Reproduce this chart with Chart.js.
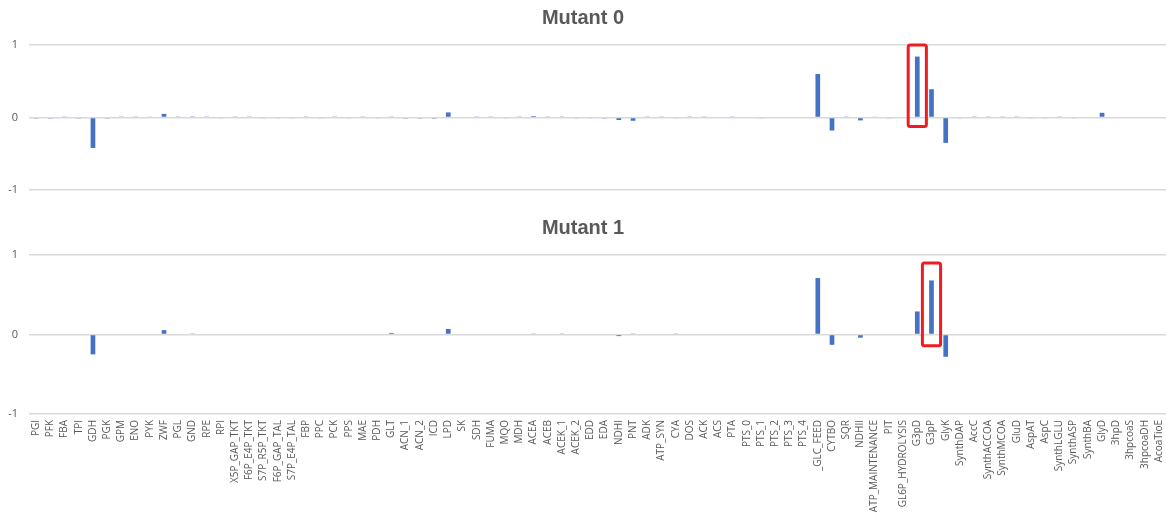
<!DOCTYPE html>
<html>
<head>
<meta charset="utf-8">
<script src="https://cdn.jsdelivr.net/npm/chart.js@4/dist/chart.umd.min.js"></script>
<style>
  body { margin: 0; background: #fff; }
  #wrap { position: relative; width: 1166px; height: 518px; }
  canvas { position: absolute; left: 0; }
  #top { top: 0; }
  #bottom { top: 210px; }
</style>
</head>
<body>
<div id="wrap">
  <canvas id="top" width="1166" height="210"></canvas>
  <canvas id="bottom" width="1166" height="308"></canvas>
</div>
<script>
const reactions = ["PGI","PFK","FBA","TPI","GDH","PGK","GPM","ENO","PYK","ZWF","PGL","GND","RPE","RPI",
  "X5P_GAP_TKT","F6P_E4P_TKT","S7P_R5P_TKT","F6P_GAP_TAL","S7P_E4P_TAL","FBP","PPC","PCK","PPS","MAE",
  "PDH","GLT","ACN_1","ACN_2","ICD","LPD","SK","SDH","FUMA","MQO","MDH","ACEA","ACEB","ACEK_1","ACEK_2",
  "EDD","EDA","NDHI","PNT","ADK","ATP_SYN","CYA","DOS","ACK","ACS","PTA","PTS_0","PTS_1","PTS_2","PTS_3",
  "PTS_4","_GLC_FEED","CYTBO","SQR","NDHII","ATP_MAINTENANCE","PIT","GL6P_HYDROLYSIS","G3pD","G3pP","GlyK",
  "SynthDAP","AccC","SynthACCOA","SynthMCOA","GluD","AspAT","AspC","SynthLGLU","SynthASP","SynthBA","GlyD",
  "3hpD","3hpcoaS","3hpcoaDH","AcoaTioE"];

const mutant0 = [-0.007,-0.007,0.007,-0.007,-0.42,-0.007,0.007,0.007,0.012,0.05,0.007,0.015,0.007,-0.009,
  0.007,0.007,-0.009,-0.009,-0.009,0.007,-0.009,0.007,-0.009,0.007,
  -0.009,0.007,-0.007,-0.007,-0.015,0.07,0,0.007,0.007,-0.009,0.007,0.02,0.007,0.007,-0.012,
  -0.012,-0.007,-0.035,-0.045,0.007,0.007,-0.009,0.007,0.007,0,0.007,0,-0.009,0,0,
  0,0.6,-0.18,0.007,-0.04,0.012,-0.009,0,0.84,0.39,-0.35,
  -0.009,0.007,0.007,0.007,0.007,-0.009,-0.009,0.007,-0.009,0,0.065,
  0,0,0,0];

const mutant1 = [0,0,0,0,-0.25,0,0,0,0,0.055,0,0.006,0,0,
  0,0,0,0,0,0,0,0,0,0,
  0,0.02,0,0,0,0.07,0,0,0,0,0,0.006,0,0.006,0,
  0,0,-0.02,0.006,0,0,0.006,0,0,0,0,0,0,0,0,
  0,0.71,-0.13,0,-0.04,0,0,0,0.29,0.68,-0.28,
  0,0,0,0,-0.01,0,0,0,0,0,0,
  0,0,0,0];

const yTicks = [-1, 0, 1];

// highlighted bars: category, value span of the box
const highlight0 = { name: "G3pD", from: -0.125, to: 1.0 };
const highlight1 = { name: "G3pP", from: -0.14, to: 0.9 };

const grey = "#595959";
const barBlue = "#4472C4";

const highlightPlugin = {
  id: "highlight",
  afterDatasetsDraw(chart, args, opts) {
    const box = opts.box;
    if (!box) return;
    const x = chart.scales.x, y = chart.scales.y;
    const i = reactions.indexOf(box.name);
    const cx = x.getPixelForValue(i);
    const half = (x.width / reactions.length) * 0.64;
    const top = y.getPixelForValue(box.to);
    const bottom = y.getPixelForValue(box.from);
    const ctx = chart.ctx;
    ctx.save();
    ctx.strokeStyle = "#ee1d23";
    ctx.lineWidth = 3;
    ctx.beginPath();
    ctx.roundRect(cx - half, top, half * 2, bottom - top, 2);
    ctx.stroke();
    ctx.restore();
  }
};

function makeChart(id, title, values, box, showLabels) {
  const ctx = document.getElementById(id).getContext("2d");
  return new Chart(ctx, {
    type: "bar",
    data: {
      labels: reactions,
      datasets: [{ data: values, backgroundColor: barBlue, categoryPercentage: 0.33, barPercentage: 1 }]
    },
    plugins: [highlightPlugin],
    options: {
      responsive: false,
      animation: false,
      layout: { padding: { left: 0, right: 0, top: 0, bottom: showLabels ? 0 : 20 } },
      plugins: {
        legend: { display: false },
        tooltip: { enabled: false },
        title: {
          display: true, text: title, color: grey,
          font: { family: "Liberation Sans", size: 20, weight: "bold" },
          padding: { top: 6, bottom: 15 }
        },
        highlight: { box }
      },
      scales: {
        x: {
          display: showLabels,
          grid: { display: false, drawTicks: false },
          border: { display: false },
          ticks: {
            autoSkip: false, minRotation: 90, maxRotation: 90, padding: 6,
            color: grey, font: { family: "Open Sans", size: 10 }
          },
          afterFit(scale) {
            scale.height = showLabels ? 104 : 0;
            scale.paddingLeft = 0;
            scale.paddingRight = 0;
          }
        },
        y: {
          min: -1, max: 1,
          afterBuildTicks(scale) { scale.ticks = yTicks.map(v => ({ value: v })); },
          afterFit(scale) { scale.width = 29; },
          grid: { color: "#d9d9d9", lineWidth: 1.5, drawTicks: false },
          border: { display: false },
          ticks: { padding: 11, color: grey, font: { family: "Open Sans", size: 11 } }
        }
      }
    }
  });
}

makeChart("top", "Mutant 0", mutant0, highlight0, false);
makeChart("bottom", "Mutant 1", mutant1, highlight1, true);
</script>
</body>
</html>
